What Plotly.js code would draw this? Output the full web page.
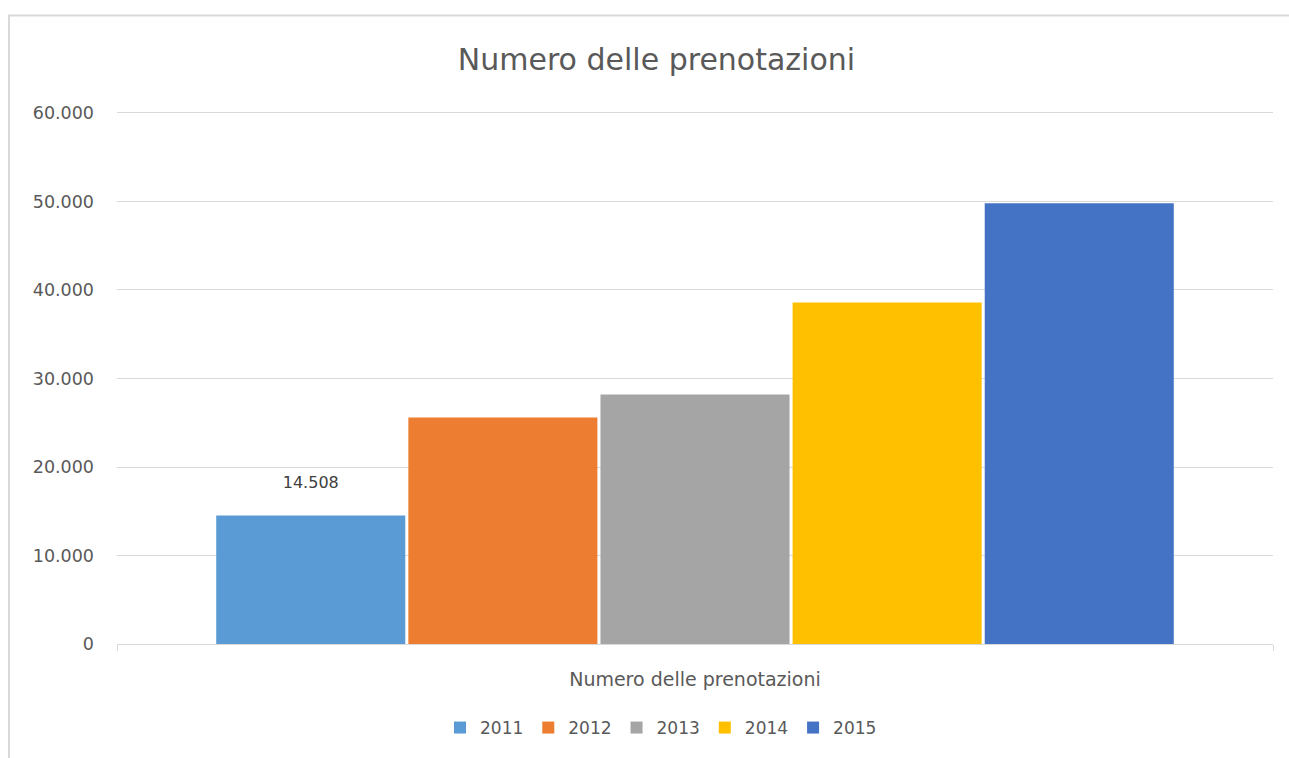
<!DOCTYPE html>
<html>
<head>
<meta charset="utf-8">
<script src="https://cdn.plot.ly/plotly-3.0.1.min.js"></script>
<style>
  html, body { margin: 0; padding: 0; background: #fff; }
  #chart { width: 1289px; height: 758px; }
</style>
</head>
<body>
<div id="chart"></div>
<script>
// --- Data ---
const category = ['Numero delle prenotazioni'];
const years = ['2011', '2012', '2013', '2014', '2015'];
const bookings = [14508, 25600, 28200, 38600, 49800];
const colors = ['#5B9BD5', '#ED7D31', '#A5A5A5', '#FFC000', '#4472C4'];
const labelled = [true, false, false, false, false]; // only 2011 carries a data label
const yTicks = [0, 10000, 20000, 30000, 40000, 50000, 60000];

const FONT = 'DejaVu Sans, sans-serif';
const GREY = '#595959';
const LINE = '#d9d9d9';

const traces = years.map((yr, i) => ({
  type: 'bar',
  name: yr,
  x: category,
  y: [bookings[i]],
  marker: { color: colors[i] },
  // blank second line lifts the label clear of the bar, like the Excel label
  texttemplate: labelled[i] ? '%{y:,d}<br> ' : '',
  textposition: 'outside',
  textfont: { family: FONT, size: 16, color: '#404040' },
  cliponaxis: false,
  hoverinfo: 'skip'
}));

const layout = {
  width: 1289, height: 758,
  paper_bgcolor: '#fff', plot_bgcolor: '#fff',
  separators: ',.',
  margin: { l: 117, r: 16, t: 111, b: 112 },
  font: { family: FONT, color: GREY, size: 17 },
  title: {
    text: 'Numero delle prenotazioni',
    font: { family: FONT, size: 30, color: GREY },
    xref: 'container', x: 0.5093, xanchor: 'center',
    yref: 'container', y: 0.921, yanchor: 'middle'
  },
  barmode: 'group',
  bargap: 0.169,
  bargroupgap: 0.016,
  xaxis: {
    type: 'category',
    showline: true, linecolor: LINE, linewidth: 1,
    ticks: 'outside', tickson: 'boundaries', ticklen: 6, tickcolor: LINE,
    ticklabelstandoff: 18,
    tickfont: { family: FONT, size: 19, color: GREY },
    showgrid: false, zeroline: false, fixedrange: true
  },
  yaxis: {
    // a little headroom above 60.000 so its gridline is drawn
    range: [0, 60225], tickvals: yTicks,
    tickformat: ',d',
    showgrid: true, gridcolor: LINE, gridwidth: 1,
    zeroline: false, showline: false, ticks: '',
    ticklabelstandoff: 22,
    tickfont: { family: FONT, size: 17.5, color: GREY },
    fixedrange: true
  },
  showlegend: true,
  legend: {
    orientation: 'h',
    x: 0.4706, xanchor: 'center',
    y: -0.1576, yanchor: 'middle',
    font: { family: FONT, size: 17, color: GREY },
    itemwidth: 30,
    traceorder: 'normal'
  },
  shapes: [{
    // outer chart frame (light grey border of the chart area)
    type: 'rect', xref: 'paper', yref: 'paper',
    x0: -0.0934, x1: 1.05, y0: -0.4, y1: 1.1794,
    line: { color: LINE, width: 2 }, fillcolor: 'rgba(0,0,0,0)',
    layer: 'below'
  }]
};

Plotly.newPlot('chart', traces, layout, { displayModeBar: false, staticPlot: true });
</script>
</body>
</html>
